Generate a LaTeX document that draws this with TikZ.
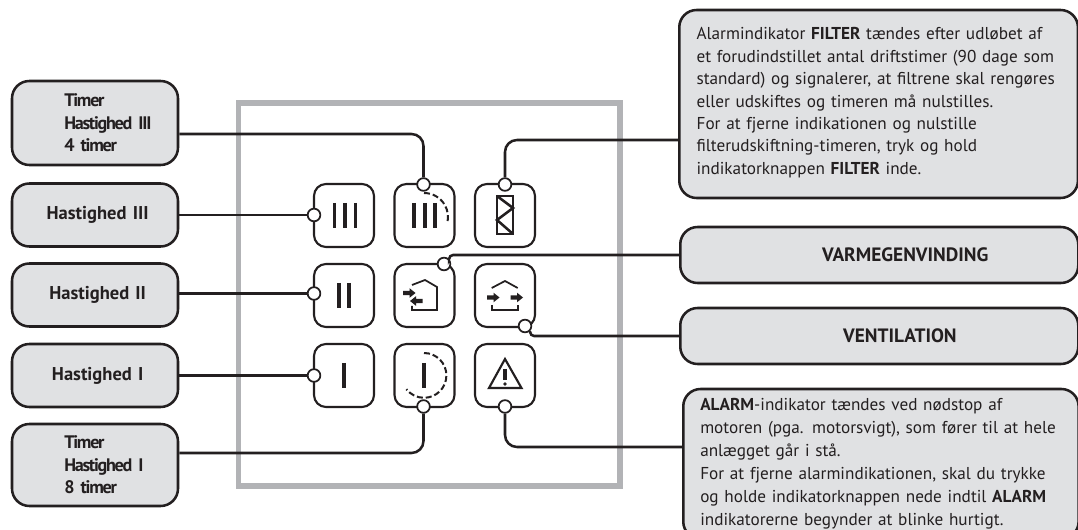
\documentclass[tikz,border=0pt]{standalone}
\usepackage{fontspec}
\setmainfont{PT Sans}
\newfontfamily\tightfont[LetterSpace=-7,WordSpace=0.1]{PT Sans}

\definecolor{boxgrey}{HTML}{E0E1E3}
\definecolor{framegrey}{HTML}{B2B3B6}
\definecolor{inkblack}{HTML}{231F20}

\tikzset{
  speedbox/.style={draw=inkblack,fill=boxgrey,line width=1.9pt,rounded corners=13pt,
    minimum width=124.5pt,text width=120pt,inner xsep=2pt,align=center,text=inkblack,font=\fontsize{13.9}{17}\selectfont\bfseries},
  timerbox/.style={speedbox,align=left,font=\fontsize{13.6}{17}\selectfont\bfseries\tightfont},
  sidebox/.style={draw=inkblack,fill=boxgrey,line width=1.9pt,rounded corners=13pt,
    anchor=west,inner xsep=12.75pt,align=left,text=inkblack,font=\fontsize{12.9}{16.8}\selectfont},
  alarmbox/.style={sidebox,font=\fontsize{12.9}{17.2}\selectfont},
  titlebox/.style={sidebox,align=center,font=\fontsize{14.5}{16}\selectfont\bfseries},
  knob/.style={draw=inkblack,fill=white,line width=1.6pt,rounded corners=9pt,minimum width=45pt,minimum height=47.25pt,inner sep=0pt},
  pinmark/.style={circle,draw=inkblack,fill=white,line width=1.3pt,minimum size=9.5pt,inner sep=0pt},
  wire/.style={draw=inkblack,line width=1.9pt,rounded corners=9pt},
  glyph/.style={draw=inkblack,line width=2.3pt},
  thinglyph/.style={draw=inkblack,line width=1.3pt},
  dashglyph/.style={draw=inkblack,line width=1.5pt,dash pattern=on 4.5pt off 2.2pt},
  airflow/.pic={\fill[inkblack] (0,-2.2) -- (6.5,-2.2) -- (6.5,-4.8) -- (12.5,0) -- (6.5,4.8) -- (6.5,2.2) -- (0,2.2) -- cycle;}
}

\begin{document}
\begin{tikzpicture}[x=0.75pt,y=-0.75pt]

\useasboundingbox (0,0) rectangle (1078,530);

\draw[framegrey,line width=3.8pt] (238.5,103) rectangle (620,486);

\node[timerbox,minimum height=63pt] (timerthree) at (95,123) {\leftskip=37pt Timer\\Hastighed III\\4 timer\par};
\node[speedbox,minimum height=47.25pt] (speedthree) at (95,215) {\hspace*{4pt}Hastighed III};
\node[speedbox,minimum height=47.25pt] (speedtwo) at (95,295) {\hspace*{4pt}Hastighed II};
\node[speedbox,minimum height=47.25pt] (speedone) at (95,375.5) {\hspace*{4pt}Hastighed I};
\node[timerbox,minimum height=61.5pt] (timerone) at (95,465) {\leftskip=37pt Timer\\Hastighed I\\8 timer\par};

\node[sidebox,minimum width=299pt,minimum height=141pt,text width=273pt] (filterbox) at (678,104) {Alarmindikator \textbf{FILTER} tændes efter udløbet af\\
et forudindstillet antal driftstimer (90 dage som\\
standard) og signalerer, at filtrene skal rengøres\\
eller udskiftes og timeren må nulstilles.\\
For at fjerne indikationen og nulstille\\
filterudskiftning-timeren, tryk og hold\\
indikatorknappen \textbf{FILTER} inde.\vspace*{2pt}};
\node[titlebox,minimum width=298.5pt,minimum height=42pt,text width=273pt] (heatbox) at (679,255) {\hspace*{39pt}VARMEGENVINDING};
\node[titlebox,minimum width=298.5pt,minimum height=42pt,text width=273pt] (ventbox) at (679,336) {\hspace*{31pt}VENTILATION};
\node[alarmbox,minimum width=296.5pt,minimum height=112.5pt,text width=271pt] (alarmbox) at (682,464) {\textbf{ALARM}-indikator tændes ved nødstop af\\
motoren (pga. motorsvigt), som fører til at hele\\
anlægget går i stå.\\
For at fjerne alarmindikationen, skal du trykke\\
og holde indikatorknappen nede indtil \textbf{ALARM}\\
indikatorerne begynder at blinke hurtigt.};

\foreach \name/\x/\y in {btnthree/344/215.5,btntimerthree/424.5/215.5,btnfilter/505/215.5,
                         btntwo/344/295.5,btnheat/424.5/295.5,btnvent/505/295.5,
                         btnone/344/375.5,btntimerone/424.5/375.5,btnalarm/505/375.5}
    \node[knob] (\name) at (\x,\y) {};

\foreach \name/\x/\y in {pinthree/314/215,pintimerthree/423.5/184.5,pinfilter/505/184.5,
                         pintwo/314/293.5,pinheat/444/264,pinvent/525/326,
                         pinone/314/375.5,pintimerone/423.5/406.5,pinalarm/505/406.5}
    \node[pinmark] (\name) at (\x,\y) {};

\draw[wire] ([yshift=-8.25pt]timerthree.east) -| (pintimerthree);
\draw[wire] (speedthree.east |- pinthree) -- (pinthree);
\draw[wire] (speedtwo.east |- pintwo) -- (pintwo);
\draw[wire] (speedone.east |- pinone) -- (pinone);
\draw[wire] ([yshift=9pt]timerone.east) -| (pintimerone);
\draw[wire] (pinfilter) |- ([yshift=-27pt]filterbox.west);
\draw[wire,rounded corners=3pt] (pinheat.north east) |- (heatbox.west);
\draw[wire,rounded corners=3pt] (pinvent.south east) |- (ventbox.west);
\draw[wire] (pinalarm) |- ([yshift=12.75pt]alarmbox.west);

\foreach \x in {334.3,345,355.7}
    \draw[glyph] (\x,203) -- (\x,228);
\foreach \x in {414,425,435}
    \draw[glyph] (\x,203) -- (\x,228);
\foreach \x in {339,349}
    \draw[glyph] (\x,283) -- (\x,308);
\draw[glyph] (344,363) -- (344,388);
\draw[glyph] (424,363) -- (424,388);

\draw[dashglyph] (424,193) arc[start angle=90,end angle=-15,radius=18pt];
\draw[dashglyph] (424,353) arc[start angle=90,end angle=-142,radius=16.8pt];

\draw[thinglyph,line width=1.9pt] (497,196) rectangle (513,234);
\draw[thinglyph,line width=1.9pt] (497,196) -- (513,208) -- (497,220) -- (513,234);

\draw[thinglyph] (412,285) -- (425,280) -- (437,287) -- (437,310) -- (412,310) -- (412,306);
\pic at (403,293) {airflow};
\pic[xscale=-1] at (422.5,301) {airflow};

\draw[thinglyph] (491.7,288) -- (505,281) -- (517.7,288);
\draw[thinglyph] (491.7,305) -- (491.7,310) -- (517.7,310) -- (517.7,305);
\pic at (487,297.5) {airflow};
\pic at (510.5,297.5) {airflow};

\draw[thinglyph,line width=1.6pt,line join=miter] (505,359) -- (521.5,388) -- (489,388) -- cycle;
\draw[glyph] (505,369) -- (505,380);
\fill[inkblack] (505,384) circle (1.4pt);

\end{tikzpicture}
\end{document}
